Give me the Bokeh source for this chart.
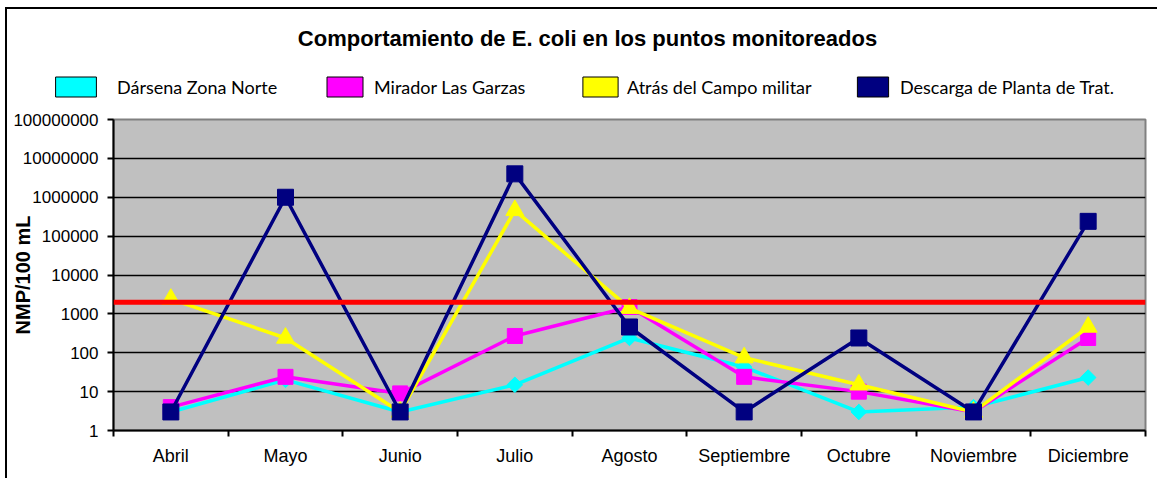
import math
from bokeh.plotting import figure
from bokeh.layouts import column
from bokeh.models import Range1d, FixedTicker, Span, Legend, LegendItem, Label
from bokeh.embed import file_html
from bokeh.resources import INLINE

# ---------------- data ----------------
categories = ["Abril", "Mayo", "Junio", "Julio", "Agosto",
              "Septiembre", "Octubre", "Noviembre", "Diciembre"]
darsena = [3, 20, 3, 15, 240, 43, 3, 4, 23]
mirador = [4, 24, 9, 270, 1500, 24, 10, 3, 240]
campo = [2400, 240, 3, 460000, 1400, 75, 15, 3, 460]
descarga = [3, 1000000, 3, 4000000, 460, 3, 240, 3, 240000]
threshold = 2000

series_names = ["Dársena Zona Norte", "Mirador Las Garzas",
                "Atrás del Campo militar", "Descarga de Planta de Trat."]
y_ticks = [1, 10, 100, 1000, 10000, 100000, 1000000, 10000000, 100000000]
y_tick_labels = ["1", "10", "100", "1000", "10000", "100000", "1000000",
                 "10000000", "100000000"]
title_text = "Comportamiento de E. coli en los puntos monitoreados"
y_label = "NMP/100 mL"

colors = ["#00FFFF", "#FF00FF", "#FFFF00", "#000080"]

# ---------------- header (title + legend) ----------------
W = 1150
header = figure(width=W, height=100, output_backend="svg", toolbar_location=None,
                x_range=Range1d(0, W), y_range=Range1d(0, 100),
                x_axis_location=None, y_axis_location=None,
                min_border=0, outline_line_color=None,
                background_fill_color="white", border_fill_color="white")
header.frame_align = False
header.xgrid.visible = False
header.ygrid.visible = False

header.add_layout(Label(x=580, y=71, x_units="screen", y_units="screen",
                        text=title_text, text_font="Liberation Sans",
                        text_font_style="bold", text_font_size="22px",
                        text_align="center", text_baseline="alphabetic",
                        text_color="black"))

# (legend x in header px, glyph width, label standoff)
leg_specs = [(43, 51, 16), (315, 45, 7), (571, 44, 5), (846, 39, 8)]
for name, col, (lx, gw, so) in zip(series_names, colors, leg_specs):
    sw = header.quad(left=[math.nan], right=[math.nan], top=[math.nan],
                     bottom=[math.nan], fill_color=col, line_color="black",
                     line_width=1)
    leg = Legend(items=[LegendItem(label=name, renderers=[sw])],
                 location=(lx, 10), orientation="horizontal",
                 glyph_width=gw, glyph_height=25, label_standoff=so,
                 padding=0, margin=0, spacing=0,
                 border_line_alpha=0, background_fill_alpha=0,
                 label_text_font="Lato", label_text_font_size="18px",
                 label_text_baseline="alphabetic",
                 label_text_line_height=1.6,
                 label_text_color="black")
    header.add_layout(leg)

# ---------------- main plot ----------------
n = len(categories)
x_pos = [i + 0.5 for i in range(n)]
x_bounds = list(range(n + 1))

p = figure(width=W, height=369, output_backend="svg", toolbar_location=None,
           y_axis_type="log", x_range=Range1d(0, n), y_range=Range1d(1, 1e8),
           min_border_left=106, min_border_right=12, min_border_top=10,
           min_border_bottom=48, background_fill_color="#C0C0C0",
           border_fill_color="white")
p.frame_align = False

p.outline_line_color = "#808080"
p.outline_line_width = 2

# x axis
p.xaxis.ticker = FixedTicker(ticks=x_pos, minor_ticks=x_bounds)
p.xaxis.major_label_overrides = {x: c for x, c in zip(x_pos, categories)}
p.xaxis.major_tick_out = 0
p.xaxis.major_tick_in = 0
p.xaxis.minor_tick_out = 6
p.xaxis.minor_tick_in = 0
p.xaxis.minor_tick_line_color = "black"
p.xaxis.minor_tick_line_width = 2
p.xaxis.axis_line_color = "black"
p.xaxis.axis_line_width = 2
p.xaxis.major_label_standoff = 9
p.xaxis.major_label_text_font = "Liberation Sans"
p.xaxis.major_label_text_font_size = "18px"
p.xaxis.major_label_text_color = "black"
p.xgrid.visible = False

# y axis
p.yaxis.ticker = FixedTicker(ticks=y_ticks)
p.yaxis.major_label_overrides = {v: s for v, s in zip(y_ticks, y_tick_labels)}
p.yaxis.major_tick_out = 6
p.yaxis.major_tick_in = 0
p.yaxis.major_tick_line_color = "black"
p.yaxis.major_tick_line_width = 2
p.yaxis.axis_line_color = "black"
p.yaxis.axis_line_width = 2
p.yaxis.major_label_standoff = 9
p.yaxis.major_label_text_font = "Liberation Sans"
p.yaxis.major_label_text_font_size = "17px"
p.yaxis.major_label_text_color = "black"
p.yaxis.axis_label = y_label
p.yaxis.axis_label_text_font = "Liberation Sans"
p.yaxis.axis_label_text_font_style = "bold"
p.yaxis.axis_label_text_font_size = "20px"
p.yaxis.axis_label_text_color = "black"
p.yaxis.axis_label_standoff = -24
p.ygrid.ticker = FixedTicker(ticks=y_ticks)
p.ygrid.grid_line_color = "black"
p.ygrid.grid_line_width = 1.5

# series
values = [darsena, mirador, campo, descarga]
markers = [("square", 11, math.pi / 4), ("square", 15, 0.0),
           ("triangle", 18, 0.0), ("square", 16, 0.0)]
for vals, col, (mk, sz, ang) in zip(values, colors, markers):
    p.line(x_pos, vals, line_color=col, line_width=3.5)
    p.scatter(x_pos, vals, marker=mk, size=sz, angle=ang,
              fill_color=col, line_color=col)

p.add_layout(Span(location=threshold, dimension="width", line_color="#FF0000",
                  line_width=5))

layout = column(header, p, spacing=0,
                styles={"margin-left": "5px", "margin-top": "7px",
                        "border-top": "2px solid black",
                        "border-left": "2px solid black"})

open("out.html", "w").write(file_html(layout, INLINE))
